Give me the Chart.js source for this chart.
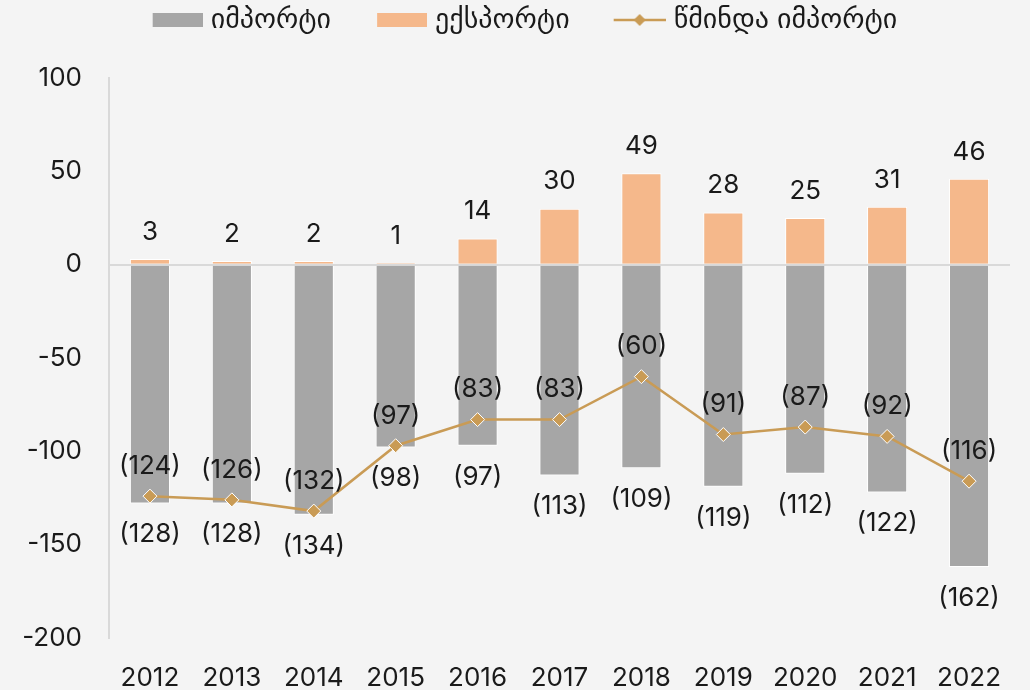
<!DOCTYPE html>
<html lang="ka">
<head>
  <meta charset="UTF-8" />
  <title>იმპორტი და ექსპორტი</title>
  <script src="https://cdn.jsdelivr.net/npm/chart.js"></script>
  <style>
    body {
      margin: 0;
      background: #f4f4f4;
    }
    .wrap {
      width: 1030px;
      height: 690px;
    }
  </style>
</head>
<body>
  <div class="wrap"><canvas id="chart"></canvas></div>

  <script>
    const years = ['2012', '2013', '2014', '2015', '2016', '2017', '2018', '2019', '2020', '2021', '2022'];
    const imports = [-128, -128, -134, -98, -97, -113, -109, -119, -112, -122, -162];
    const exports = [3, 2, 2, 1, 14, 30, 49, 28, 25, 31, 46];
    const netImports = [-124, -126, -132, -97, -83, -83, -60, -91, -87, -92, -116];

    const grey = '#a6a6a6';
    const orange = '#f5b88b';
    const gold = '#c99b55';
    const fontFamily = 'Inter, "DejaVu Sans", sans-serif';
    const textColor = '#1a1a1a';

    // legend key pictures; the key sits at the right end so it hugs its text
    const KEY_BOX = 84;
    function legendKey(kind) {
      const c = document.createElement('canvas');
      c.width = KEY_BOX + 12; c.height = 16;
      const g = c.getContext('2d');
      const x0 = c.width - 52;
      if (kind === 'line') {
        g.strokeStyle = gold;
        g.lineWidth = 2.5;
        g.beginPath(); g.moveTo(x0, 8); g.lineTo(x0 + 53, 8); g.stroke();
        g.fillStyle = gold;
        const cx = x0 + 26;
        g.beginPath(); g.moveTo(cx, 2); g.lineTo(cx + 6, 8); g.lineTo(cx, 14); g.lineTo(cx - 6, 8); g.closePath(); g.fill();
      } else {
        g.fillStyle = kind;
        g.fillRect(x0 + 2, 1, 50, 14);
      }
      return c;
    }

    const fmt = v => v < 0 ? '(' + Math.abs(v) + ')' : String(v);

    const valueLabels = {
      id: 'valueLabels',
      afterDatasetsDraw(chart) {
        const ctx = chart.ctx;
        ctx.save();
        ctx.font = '26px ' + fontFamily;
        ctx.fillStyle = textColor;
        ctx.textAlign = 'center';
        ctx.textBaseline = 'middle';
        chart.data.datasets.forEach((ds, i) => {
          chart.getDatasetMeta(i).data.forEach((el, j) => {
            const v = ds.data[j];
            let y;
            if (ds.type === 'line') y = el.y - 30;
            else if (v < 0) y = el.y + 31;
            else y = el.y - 27;
            ctx.fillText(fmt(v), el.x, y);
          });
        });
        ctx.restore();
      }
    };

    // a bit of room between legend and plot
    const legendGap = {
      id: 'legendGap',
      beforeInit(chart) {
        const fit = chart.legend.fit;
        chart.legend.fit = function () {
          fit.bind(chart.legend)();
          this.height += 34;
        };
      }
    };

    new Chart(document.getElementById('chart'), {
      data: {
        labels: years,
        datasets: [
          {
            type: 'line',
            label: 'წმინდა იმპორტი',
            data: netImports,
            borderColor: gold,
            borderWidth: 2.5,
            pointStyle: 'rectRot',
            pointRadius: 7,
            pointBackgroundColor: gold,
            pointBorderColor: '#ffffff',
            pointBorderWidth: 1,
            order: 0
          },
          {
            type: 'bar',
            label: 'იმპორტი',
            data: imports,
            backgroundColor: grey,
            borderColor: '#ffffff',
            borderWidth: 1,
            barPercentage: 0.49,
            categoryPercentage: 1,
            grouped: false,
            order: 2
          },
          {
            type: 'bar',
            label: 'ექსპორტი',
            data: exports,
            backgroundColor: orange,
            borderColor: '#ffffff',
            borderWidth: 1,
            barPercentage: 0.49,
            categoryPercentage: 1,
            grouped: false,
            order: 1
          }
        ]
      },
      options: {
        responsive: true,
        maintainAspectRatio: false,
        animation: false,
        layout: { padding: { top: 0, right: 20, left: 0, bottom: 0 } },
        plugins: {
          tooltip: { enabled: false },
          legend: {
            position: 'top',
            labels: {
              color: textColor,
              font: { size: 28, family: fontFamily },
              usePointStyle: true,
              pointStyleWidth: KEY_BOX,
              boxHeight: 16,
              padding: 6,
              sort: (a, b) => {
                const want = ['იმპორტი', 'ექსპორტი', 'წმინდა იმპორტი'];
                return want.indexOf(a.text) - want.indexOf(b.text);
              },
              generateLabels(chart) {
                const keys = { 'იმპორტი': legendKey(grey), 'ექსპორტი': legendKey(orange), 'წმინდა იმპორტი': legendKey('line') };
                return chart.data.datasets.map((ds, i) => ({
                  text: ds.label,
                  datasetIndex: i,
                  pointStyle: keys[ds.label],
                  fontColor: textColor,
                  lineWidth: 0
                }));
              }
            }
          }
        },
        scales: {
          x: {
            grid: { display: false, drawTicks: false },
            border: { display: false },
            ticks: {
              color: textColor,
              font: { size: 26, family: fontFamily },
              padding: 25
            },
            afterFit(scale) { scale.height = 52; }
          },
          y: {
            min: -200,
            max: 100,
            ticks: {
              stepSize: 50,
              color: textColor,
              font: { size: 26, family: fontFamily },
              padding: 27
            },
            grid: {
              drawTicks: false,
              color: c => c.tick.value === 0 ? '#d9d9d9' : 'rgba(0,0,0,0)',
              lineWidth: 2
            },
            border: { display: true, color: '#d9d9d9', width: 2 },
            afterFit(scale) { scale.width = 109; }
          }
        }
      },
      plugins: [valueLabels, legendGap]
    });
  </script>
</body>
</html>
